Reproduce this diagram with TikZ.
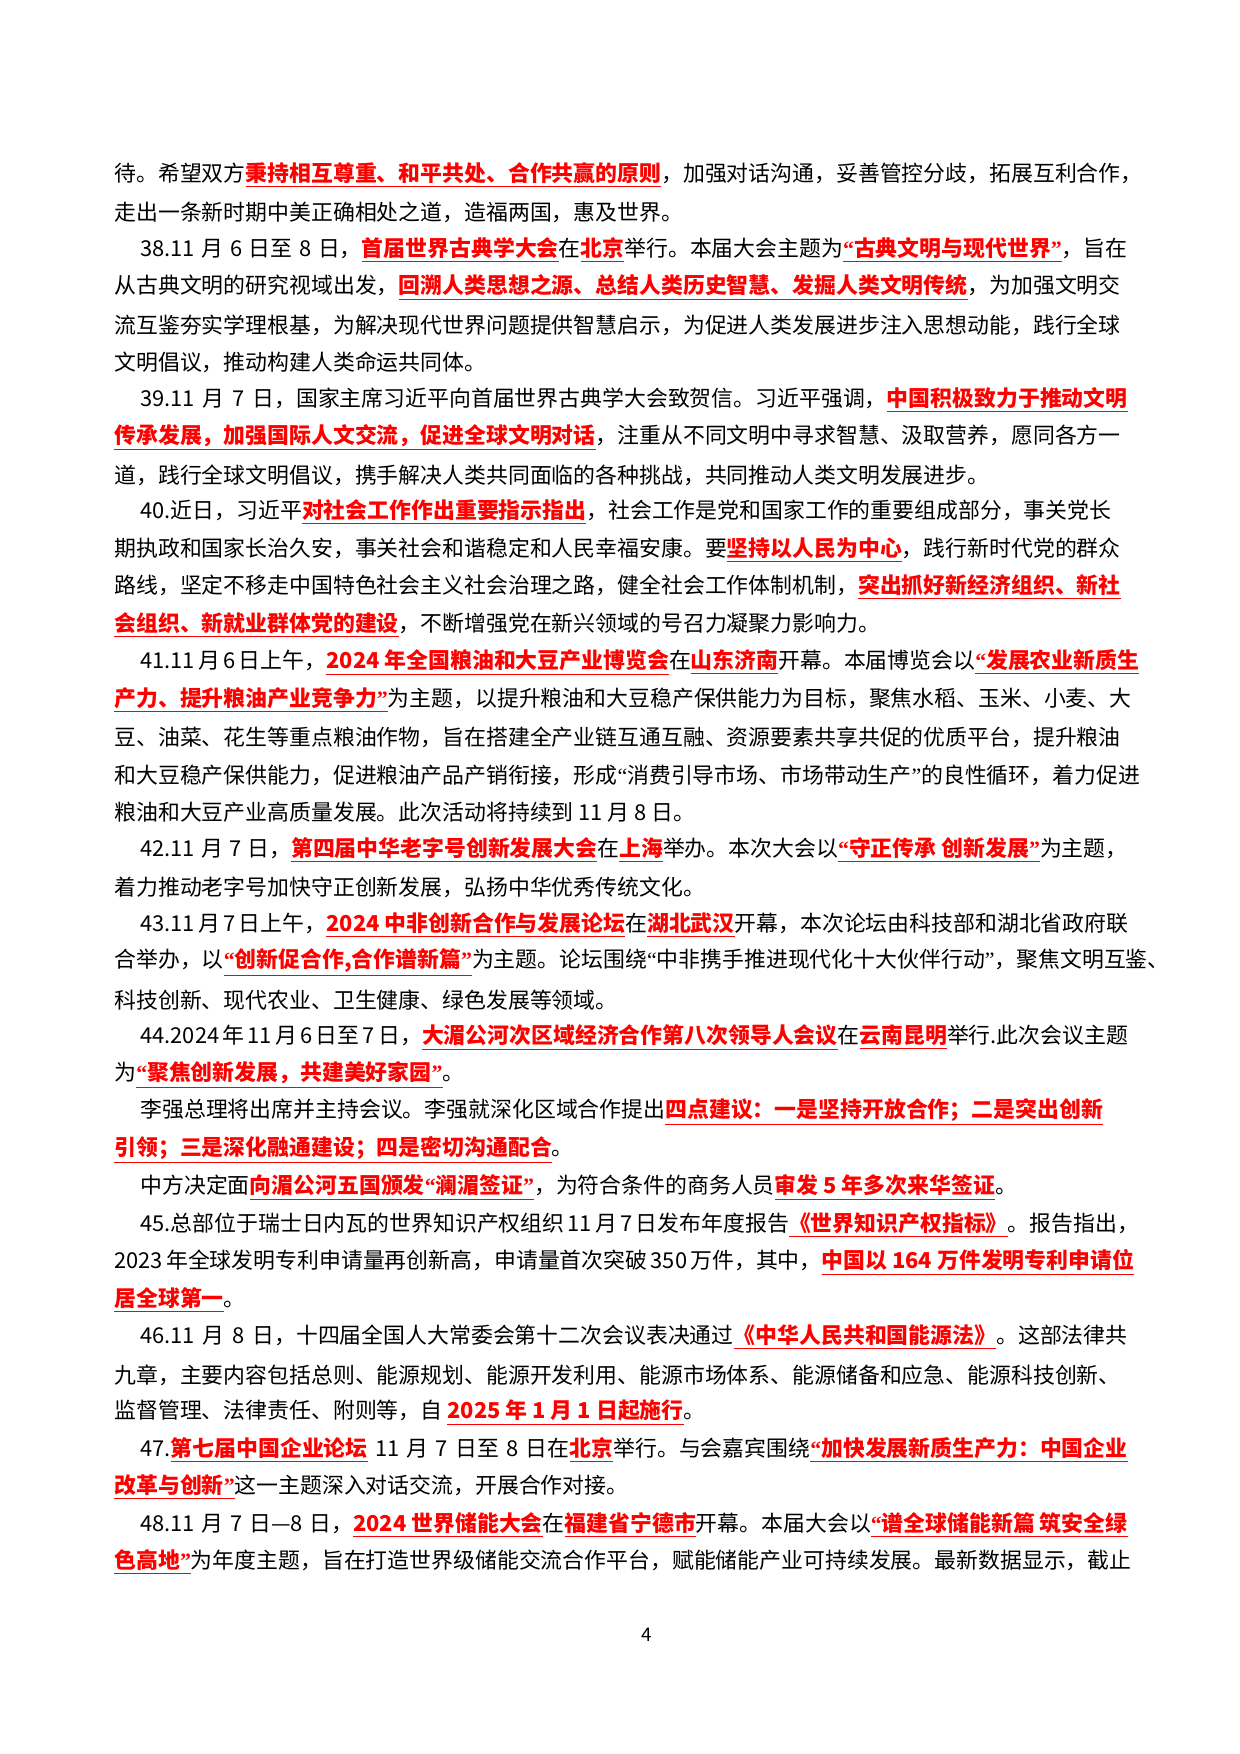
\documentclass[tikz,border=0pt]{standalone}
\usepackage{fontspec}
\setmainfont{Noto Sans CJK SC}
\newfontfamily\lat{Liberation Serif}
\XeTeXlinebreaklocale "zh"
\XeTeXlinebreakskip=0pt plus 2pt
\newcommand\body{\fontsize{10.5}{12}\selectfont}
\newcommand\hl[1]{\textcolor{red}{\bfseries\underline{#1}}}
\newcommand\oq{{\lat “}}
\newcommand\cq{{\lat ”}}
\newcommand\full[1]{\hbox to 486.2pt{#1}}
\newcommand\fullin[1]{\hbox to 473.8pt{#1}}
\begin{document}
\begin{tikzpicture}[x=0.48pt,y=-0.48pt]
\tikzset{ln/.style={anchor=west, inner sep=0pt, font=\body}}

% paragraph 37 (tail)
\node[ln] (l1) at (114,175) {\full{待。希望双方\hl{秉持相互尊重、和平共处、合作共赢的原则}，加强对话沟通，妥善管控分歧，拓展互利合作，}};
\node[ln] (l2) at (114,212.5) {走出一条新时期中美正确相处之道，造福两国，惠及世界。};
% 38
\node[ln] (l3) at (140,250) {\fullin{38.11 月 6 日至 8 日，\hl{首届世界古典学大会}在\hl{北京}举行。本届大会主题为\hl{\oq 古典文明与现代世界\cq}，旨在}};
\node[ln] (l4) at (114,287.5) {\full{从古典文明的研究视域出发，\hl{回溯人类思想之源、总结人类历史智慧、发掘人类文明传统}，为加强文明交}};
\node[ln] (l5) at (114,325) {\full{流互鉴夯实学理根基，为解决现代世界问题提供智慧启示，为促进人类发展进步注入思想动能，践行全球}};
\node[ln] (l6) at (114,362.5) {文明倡议，推动构建人类命运共同体。};
% 39
\node[ln] (l7) at (140,400) {\fullin{39.11 月 7 日，国家主席习近平向首届世界古典学大会致贺信。习近平强调，\hl{中国积极致力于推动文明}}};
\node[ln] (l8) at (114,437.5) {\full{\hl{传承发展，加强国际人文交流，促进全球文明对话}，注重从不同文明中寻求智慧、汲取营养，愿同各方一}};
\node[ln] (l9) at (114,475) {道，践行全球文明倡议，携手解决人类共同面临的各种挑战，共同推动人类文明发展进步。};
% 40
\node[ln] (l10) at (140,512.5) {\fullin{40.近日，习近平\hl{对社会工作作出重要指示指出}，社会工作是党和国家工作的重要组成部分，事关党长}};
\node[ln] (l11) at (114,550) {\full{期执政和国家长治久安，事关社会和谐稳定和人民幸福安康。要\hl{坚持以人民为中心}，践行新时代党的群众}};
\node[ln] (l12) at (114,587.5) {\full{路线，坚定不移走中国特色社会主义社会治理之路，健全社会工作体制机制，\hl{突出抓好新经济组织、新社}}};
\node[ln] (l13) at (114,625) {\hl{会组织、新就业群体党的建设}，不断增强党在新兴领域的号召力凝聚力影响力。};
% 41
\node[ln] (l14) at (140,662.5) {\fullin{41.11 月 6 日上午，\hl{2024 年全国粮油和大豆产业博览会}在\hl{山东济南}开幕。本届博览会以\hl{\oq 发展农业新质生}}};
\node[ln] (l15) at (114,700) {\full{\hl{产力、提升粮油产业竞争力\cq}为主题，以提升粮油和大豆稳产保供能力为目标，聚焦水稻、玉米、小麦、大}};
\node[ln] (l16) at (114,737.5) {\full{豆、油菜、花生等重点粮油作物，旨在搭建全产业链互通互融、资源要素共享共促的优质平台，提升粮油}};
\node[ln] (l17) at (114,775) {\full{和大豆稳产保供能力，促进粮油产品产销衔接，形成\oq 消费引导市场、市场带动生产\cq 的良性循环，着力促进}};
\node[ln] (l18) at (114,812.5) {粮油和大豆产业高质量发展。此次活动将持续到 11 月 8 日。};
% 42
\node[ln] (l19) at (140,850) {\fullin{42.11 月 7 日，\hl{第四届中华老字号创新发展大会}在\hl{上海}举办。本次大会以\hl{\oq 守正传承 创新发展\cq}为主题，}};
\node[ln] (l20) at (114,887.5) {着力推动老字号加快守正创新发展，弘扬中华优秀传统文化。};
% 43
\node[ln] (l21) at (140,925) {\fullin{43.11 月 7 日上午，\hl{2024 中非创新合作与发展论坛}在\hl{湖北武汉}开幕，本次论坛由科技部和湖北省政府联}};
\node[ln] (l22) at (114,962.5) {\full{合举办，以\hl{\oq 创新促合作,合作谱新篇\cq}为主题。论坛围绕\oq 中非携手推进现代化十大伙伴行动\cq，聚焦文明互鉴、}};
\node[ln] (l23) at (114,1000) {科技创新、现代农业、卫生健康、绿色发展等领域。};
% 44
\node[ln] (l24) at (140,1037.5) {\fullin{44.2024 年 11 月 6 日至 7 日，\hl{大湄公河次区域经济合作第八次领导人会议}在\hl{云南昆明}举行.此次会议主题}};
\node[ln] (l25) at (114,1075) {为\hl{\oq 聚焦创新发展，共建美好家园\cq}。};
\node[ln] (l26) at (140,1112.5) {\fullin{李强总理将出席并主持会议。李强就深化区域合作提出\hl{四点建议：一是坚持开放合作；二是突出创新}}};
\node[ln] (l27) at (114,1150) {\hl{引领；三是深化融通建设；四是密切沟通配合}。};
\node[ln] (l28) at (140,1187.5) {中方决定面\hl{向湄公河五国颁发\oq 澜湄签证\cq}，为符合条件的商务人员\hl{审发 5 年多次来华签证}。};
% 45
\node[ln] (l29) at (140,1225) {\fullin{45.总部位于瑞士日内瓦的世界知识产权组织 11 月 7 日发布年度报告\hl{《世界知识产权指标》}。报告指出，}};
\node[ln] (l30) at (114,1262.5) {\full{2023 年全球发明专利申请量再创新高，申请量首次突破 350 万件，其中，\hl{中国以 164 万件发明专利申请位}}};
\node[ln] (l31) at (114,1300) {\hl{居全球第一}。};
% 46
\node[ln] (l32) at (140,1337.5) {\fullin{46.11 月 8 日，十四届全国人大常委会第十二次会议表决通过\hl{《中华人民共和国能源法》}。这部法律共}};
\node[ln] (l33) at (114,1375) {\full{九章，主要内容包括总则、能源规划、能源开发利用、能源市场体系、能源储备和应急、能源科技创新、}};
\node[ln] (l34) at (114,1412.5) {监督管理、法律责任、附则等，自 \hl{2025 年 1 月 1 日起施行}。};
% 47
\node[ln] (l35) at (140,1450) {\fullin{47.\hl{第七届中国企业论坛} 11 月 7 日至 8 日在\hl{北京}举行。与会嘉宾围绕\hl{\oq 加快发展新质生产力：中国企业}}};
\node[ln] (l36) at (114,1487.5) {\hl{改革与创新\cq}这一主题深入对话交流，开展合作对接。};
% 48
\node[ln] (l37) at (140,1525) {\fullin{48.11 月 7 日—8 日，\hl{2024 世界储能大会}在\hl{福建省宁德市}开幕。本届大会以\hl{\oq 谱全球储能新篇 筑安全绿}}};
\node[ln] (l38) at (114,1562.5) {\full{\hl{色高地\cq}为年度主题，旨在打造世界级储能交流合作平台，赋能储能产业可持续发展。最新数据显示，截止}};

\node[font=\fontsize{9}{10}\selectfont, inner sep=0pt] (page) at (647,1635) {4};

\pgfresetboundingbox
\useasboundingbox (0,0) rectangle (1240,1754);
\end{tikzpicture}
\end{document}
